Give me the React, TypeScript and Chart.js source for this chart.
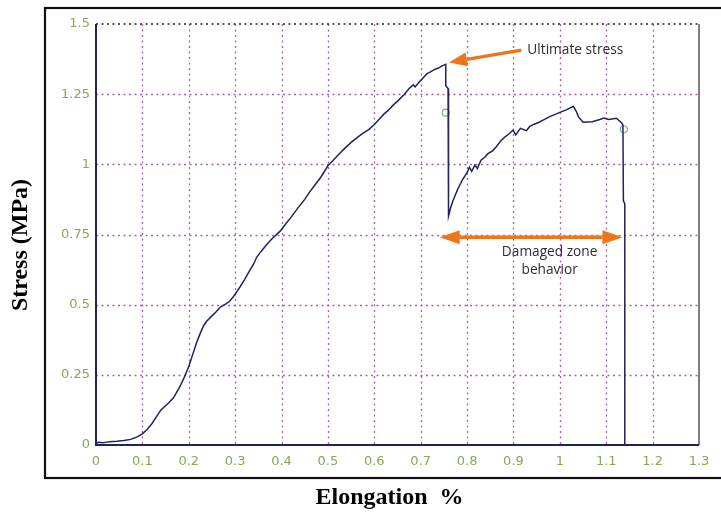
import React, { useEffect, useRef } from "react";
import { Chart, registerables } from "chart.js";

Chart.register(...registerables);

// Stress–strain curve (Elongation %, Stress MPa)
const elongation = [
  0.0, 0.005, 0.015, 0.03, 0.045, 0.06, 0.075, 0.09, 0.1, 0.11, 0.12, 0.13, 0.14, 0.15, 0.158,
  0.167, 0.18, 0.19, 0.2, 0.21, 0.217, 0.224, 0.232, 0.238, 0.25, 0.258, 0.267, 0.28, 0.288,
  0.296, 0.31, 0.32, 0.33, 0.34, 0.346, 0.355, 0.37, 0.38, 0.397, 0.41, 0.42, 0.435, 0.45,
  0.46, 0.47, 0.485, 0.5, 0.51, 0.52, 0.535, 0.55, 0.565, 0.575, 0.588, 0.6, 0.61, 0.62, 0.63,
  0.64, 0.652, 0.664, 0.675, 0.684, 0.688, 0.695, 0.705, 0.713, 0.722, 0.73, 0.738, 0.745,
  0.754, 0.754, 0.759, 0.76, 0.765, 0.77, 0.78, 0.79, 0.8, 0.805, 0.81, 0.817, 0.822, 0.83,
  0.838, 0.845, 0.855, 0.863, 0.872, 0.88, 0.89, 0.899, 0.905, 0.915, 0.928, 0.935, 0.945,
  0.955, 0.967, 0.978, 0.99, 1.0, 1.015, 1.029, 1.035, 1.04, 1.05, 1.07, 1.086, 1.095, 1.105,
  1.122, 1.133, 1.136, 1.137, 1.14, 1.14,
];
const stress = [
  0.005, 0.01, 0.008, 0.012, 0.013, 0.016, 0.02, 0.03, 0.04, 0.055, 0.075, 0.1, 0.125, 0.14,
  0.152, 0.168, 0.205, 0.24, 0.28, 0.33, 0.365, 0.395, 0.425, 0.44, 0.46, 0.473, 0.49, 0.503,
  0.512, 0.528, 0.562, 0.588, 0.618, 0.645, 0.668, 0.688, 0.718, 0.736, 0.762, 0.79, 0.81,
  0.844, 0.875, 0.9, 0.922, 0.955, 0.995, 1.012, 1.03, 1.055, 1.078, 1.098, 1.11, 1.124, 1.142,
  1.16, 1.178, 1.192, 1.21, 1.228, 1.248, 1.27, 1.283, 1.276, 1.29, 1.308, 1.322, 1.33, 1.338,
  1.343, 1.35, 1.356, 1.28, 1.27, 0.816, 0.848, 0.872, 0.912, 0.945, 0.97, 0.99, 0.975, 0.998,
  0.985, 1.015, 1.025, 1.038, 1.048, 1.063, 1.082, 1.095, 1.108, 1.122, 1.105, 1.128, 1.12,
  1.135, 1.143, 1.15, 1.16, 1.17, 1.178, 1.185, 1.195, 1.207, 1.19, 1.17, 1.15, 1.152, 1.16,
  1.165, 1.16, 1.164, 1.148, 1.14, 0.87, 0.86, 0.0,
];

// Open circle markers
const markerX = [0.754, 1.138];
const markerY = [1.184, 1.125];

// Axis ticks
const xTickLabels = ["0", "0.1", "0.2", "0.3", "0.4", "0.5", "0.6", "0.7", "0.8", "0.9", "1", "1.1", "1.2", "1.3"];
const yTickLabels = ["0", "0.25", "0.5", "0.75", "1", "1.25", "1.5"];

// Annotations (in data units)
const ultimateLabel = "Ultimate stress";
const ultimateArrowFrom = [0.917, 1.407];
const ultimateArrowTo = [0.761, 1.363];
const damagedLabel = ["Damaged zone", "behavior"];
const damagedLabelX = 0.978;
const damagedArrowX = [0.741, 1.135];
const damagedArrowY = 0.74;

const xTitle = "Elongation  %";
const yTitle = "Stress (MPa)";

const ORANGE = "#ee7519";
const TICK_GREEN = "#86a85a";
const GRID_PURPLE = "#a265a8";
const NAVY = "#22225e";

function drawArrowHead(ctx: CanvasRenderingContext2D, tx: number, ty: number, fx: number, fy: number, len: number, half: number) {
  const ang = Math.atan2(ty - fy, tx - fx);
  const bx = tx - len * Math.cos(ang);
  const by = ty - len * Math.sin(ang);
  ctx.beginPath();
  ctx.moveTo(tx, ty);
  ctx.lineTo(bx + half * Math.sin(ang), by - half * Math.cos(ang));
  ctx.lineTo(bx - half * Math.sin(ang), by + half * Math.cos(ang));
  ctx.closePath();
  ctx.fill();
  return [bx, by];
}

const decorPlugin = {
  id: "decor",
  beforeDatasetsDraw(chart: any) {
    const { ctx, chartArea, scales } = chart;
    const xs = scales.x;
    const ys = scales.y;
    ctx.save();
    // grid
    ctx.strokeStyle = GRID_PURPLE;
    ctx.lineWidth = 1.3;
    ctx.setLineDash([2, 3.5]);
    for (let i = 1; i < xTickLabels.length - 1; i++) {
      const px = Math.round(xs.getPixelForValue(i * 0.1)) + 0.5;
      ctx.beginPath();
      ctx.moveTo(px, chartArea.top);
      ctx.lineTo(px, chartArea.bottom);
      ctx.stroke();
    }
    for (let i = 1; i < yTickLabels.length - 1; i++) {
      const py = Math.round(ys.getPixelForValue(i * 0.25)) + 0.5;
      ctx.beginPath();
      ctx.moveTo(chartArea.left, py);
      ctx.lineTo(chartArea.right, py);
      ctx.stroke();
    }
    // top dotted border
    ctx.strokeStyle = "#222222";
    ctx.lineWidth = 1.6;
    ctx.beginPath();
    ctx.moveTo(chartArea.left, chartArea.top);
    ctx.lineTo(chartArea.right, chartArea.top);
    ctx.stroke();
    ctx.setLineDash([]);
    // right border
    ctx.strokeStyle = "#555555";
    ctx.lineWidth = 1.5;
    ctx.beginPath();
    ctx.moveTo(chartArea.right, chartArea.top);
    ctx.lineTo(chartArea.right, chartArea.bottom);
    ctx.stroke();
    // left & bottom axes
    ctx.strokeStyle = NAVY;
    ctx.lineWidth = 2;
    ctx.beginPath();
    ctx.moveTo(chartArea.left, chartArea.top);
    ctx.lineTo(chartArea.left, chartArea.bottom);
    ctx.lineTo(chartArea.right, chartArea.bottom);
    ctx.stroke();
    ctx.restore();
  },
  afterDatasetsDraw(chart: any) {
    const { ctx, scales } = chart;
    const xs = scales.x;
    const ys = scales.y;
    ctx.save();
    ctx.fillStyle = ORANGE;
    ctx.strokeStyle = ORANGE;
    ctx.lineCap = "butt";
    // ultimate stress arrow
    const fx = xs.getPixelForValue(ultimateArrowFrom[0]);
    const fy = ys.getPixelForValue(ultimateArrowFrom[1]);
    const tx = xs.getPixelForValue(ultimateArrowTo[0]);
    const ty = ys.getPixelForValue(ultimateArrowTo[1]);
    const [bx, by] = drawArrowHead(ctx, tx, ty, fx, fy, 18, 7);
    ctx.lineWidth = 3.2;
    ctx.beginPath();
    ctx.moveTo(fx, fy);
    ctx.lineTo(bx, by);
    ctx.stroke();
    // damaged zone double arrow
    const ax1 = xs.getPixelForValue(damagedArrowX[0]);
    const ax2 = xs.getPixelForValue(damagedArrowX[1]);
    const ay = ys.getPixelForValue(damagedArrowY);
    const [b1x] = drawArrowHead(ctx, ax1, ay, ax2, ay, 20, 7);
    const [b2x] = drawArrowHead(ctx, ax2, ay, ax1, ay, 20, 7);
    ctx.lineWidth = 3.6;
    ctx.beginPath();
    ctx.moveTo(b1x, ay);
    ctx.lineTo(b2x, ay);
    ctx.stroke();
    // texts
    ctx.fillStyle = "#2e2e2e";
    ctx.font = "13.7px 'Open Sans'";
    ctx.textBaseline = "middle";
    ctx.textAlign = "left";
    ctx.fillText(ultimateLabel, fx + 6, fy);
    ctx.textAlign = "center";
    const cx = xs.getPixelForValue(damagedLabelX);
    ctx.fillText(damagedLabel[0], cx, ay + 15);
    ctx.fillText(damagedLabel[1], cx, ay + 33);
    ctx.restore();
  },
  afterDraw(chart: any) {
    const { ctx, chartArea } = chart;
    ctx.save();
    // outer frame
    ctx.strokeStyle = "#111111";
    ctx.lineWidth = 2.2;
    ctx.strokeRect(45, 8, 690, 470);
    // titles
    ctx.fillStyle = "#000000";
    ctx.font = "bold 24px 'Liberation Serif'";
    ctx.textAlign = "center";
    ctx.textBaseline = "middle";
    ctx.fillText(xTitle, (chartArea.left + chartArea.right) / 2 - 8, 498);
    ctx.translate(21, 245);
    ctx.rotate(-Math.PI / 2);
    ctx.fillText(yTitle, 0, 0);
    ctx.restore();
  },
};

export default function App() {
  const ref = useRef<HTMLCanvasElement | null>(null);
  useEffect(() => {
    if (!ref.current) return;
    const tickFont = { family: "'DejaVu Sans'", size: 13 };
    const chart = new Chart(ref.current, {
      type: "scatter",
      data: {
        datasets: [
          {
            data: elongation.map((x, i) => ({ x, y: stress[i] })),
            showLine: true,
            borderColor: NAVY,
            borderWidth: 1.5,
            pointRadius: 0,
            tension: 0,
          },
          {
            data: markerX.map((x, i) => ({ x, y: markerY[i] })),
            showLine: false,
            pointRadius: 3.5,
            pointBorderWidth: 1.2,
            borderColor: "#7fb07a",
            backgroundColor: "rgba(0,0,0,0)",
          },
        ],
      },
      options: {
        animation: false,
        responsive: false,
        devicePixelRatio: 1,
        layout: { padding: { top: 24, right: 22, left: 0, bottom: 0 } },
        plugins: { legend: { display: false }, tooltip: { enabled: false } },
        scales: {
          x: {
            type: "linear",
            min: 0,
            max: 1.3,
            grid: { display: false, drawTicks: false },
            border: { display: false },
            ticks: {
              stepSize: 0.1,
              autoSkip: false,
              maxRotation: 0,
              padding: 9,
              color: TICK_GREEN,
              font: tickFont,
              callback: (v: any, i: number) => xTickLabels[i],
            },
            afterFit: (s: any) => {
              s.height = 71;
            },
          },
          y: {
            type: "linear",
            min: 0,
            max: 1.5,
            grid: { display: false, drawTicks: false },
            border: { display: false },
            ticks: {
              stepSize: 0.25,
              autoSkip: false,
              padding: 6,
              color: TICK_GREEN,
              font: tickFont,
              callback: (v: any, i: number) => yTickLabels[i],
            },
            afterFit: (s: any) => {
              s.width = 96;
            },
          },
        },
      },
      plugins: [decorPlugin],
    });
    return () => chart.destroy();
  }, []);
  return (
    <div style={{ position: "fixed", left: 0, top: 0, width: 721, height: 516, background: "#fff" }}>
      <canvas ref={ref} width={721} height={516} style={{ width: 721, height: 516 }} />
    </div>
  );
}
